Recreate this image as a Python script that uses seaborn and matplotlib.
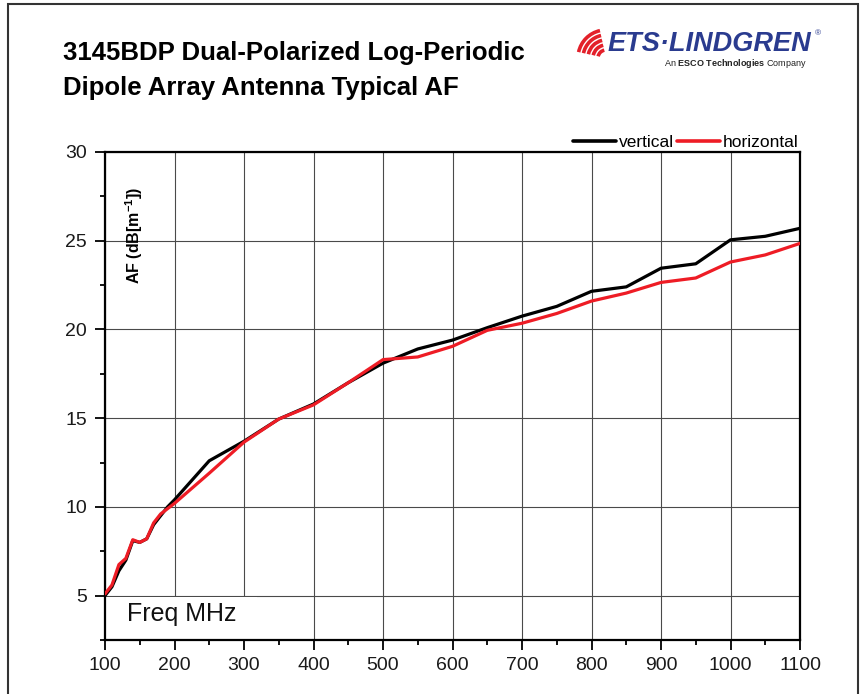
import numpy as np
import pandas as pd
import matplotlib
matplotlib.use('Agg')
import matplotlib.pyplot as plt
from matplotlib.patches import Rectangle, Arc
from matplotlib.lines import Line2D
from matplotlib.ticker import MultipleLocator
import seaborn as sns

# Antenna factor readings (MHz vs dB[1/m])
freq_mhz = [100, 110, 120, 130, 140, 150, 160, 170, 180, 190, 200,
            250, 300, 350, 400, 450, 500, 550, 600, 650, 700, 750,
            800, 850, 900, 950, 1000, 1050, 1100]
af_vertical = [5.0, 5.5, 6.4, 7.0, 8.1, 8.0, 8.2, 9.0, 9.5, 10.0, 10.4,
               12.6, 13.7, 14.95, 15.8, 17.0, 18.1, 18.9, 19.4, 20.1, 20.75, 21.3,
               22.15, 22.4, 23.45, 23.7, 25.05, 25.25, 25.7]
af_horizontal = [5.1, 5.6, 6.75, 7.1, 8.15, 8.0, 8.2, 9.1, 9.6, 9.9, 10.2,
                 11.9, 13.65, 14.95, 15.75, 17.0, 18.3, 18.45, 19.05, 19.95, 20.35, 20.9,
                 21.6, 22.05, 22.65, 22.9, 23.8, 24.2, 24.85]
series_names = ['vertical', 'horizontal']
series_colors = ['#000000', '#ee1c25']
x_ticks = list(range(100, 1101, 100))
y_ticks = [5, 10, 15, 20, 25, 30]

df = pd.DataFrame({
    'freq': freq_mhz * 2,
    'af': af_vertical + af_horizontal,
    'pol': ['vertical'] * len(freq_mhz) + ['horizontal'] * len(freq_mhz),
})

sns.set_style('white')
plt.rcParams['font.family'] = ['Liberation Sans', 'DejaVu Sans']
plt.rcParams['text.color'] = 'black'
plt.rcParams['mathtext.fontset'] = 'custom'
plt.rcParams['mathtext.rm'] = 'Liberation Sans'
plt.rcParams['mathtext.bf'] = 'Liberation Sans:bold'

fig = plt.figure(figsize=(8.65, 6.94), dpi=100)
ax = fig.add_axes([105 / 865, 1 - 640 / 694, 695 / 865, 488 / 694])

sns.lineplot(data=df, x='freq', y='af', hue='pol', hue_order=series_names,
             palette=series_colors, linewidth=2.3, legend=False, ax=ax,
             zorder=3)

ax.set_xlim(100, 1100)
ax.set_ylim(2.5, 30)
ax.set_xticks(x_ticks)
ax.set_yticks(y_ticks)
ax.xaxis.set_minor_locator(MultipleLocator(50))
ax.yaxis.set_minor_locator(MultipleLocator(2.5))
ax.tick_params(which='major', direction='out', length=7, width=1.3,
               color='black', labelsize=14, labelcolor='#1a1a1a', pad=5,
               bottom=True, left=True)
ax.tick_params(which='minor', direction='out', length=3.6, width=1.3,
               color='black', bottom=True, left=True)
ax.tick_params(axis='y', pad=6)
ax.grid(True, which='major', color='#4a4a4a', linewidth=0.8)
ax.set_axisbelow(True)
for s in ax.spines.values():
    s.set_visible(True)
    s.set_color('black')
    s.set_linewidth(1.6)
ax.set_xlabel('')
ax.set_ylabel('')

# white box behind the axis caption
ax.add_patch(Rectangle((0, 0), 152 / 695, 43 / 488, transform=ax.transAxes,
                       facecolor='white', edgecolor='none', zorder=2))
ax.text(127 / 865, 1 - 614 / 694, 'Freq MHz', transform=fig.transFigure,
        fontsize=18, va='center', ha='left', color='#111111', zorder=4)
ax.text(134 / 865, 1 - 235 / 694, r'AF (dB[m$^{\mathbf{-1}}$])',
        transform=fig.transFigure, rotation=90, fontsize=11.5,
        fontweight='bold', va='center', ha='center', zorder=4)

# legend above the plot
handles = [Line2D([0], [0], color=c, linewidth=2.6) for c in series_colors]
ax.legend(handles, series_names, loc='lower right', bbox_to_anchor=(1.0, 1.0),
          ncol=2, frameon=False, fontsize=12.5, handlelength=2.5,
          handletextpad=0.15, columnspacing=0.15, borderaxespad=0.1,
          borderpad=0.0)

# title
fig.text(63 / 865, 1 - 53 / 694, '3145BDP Dual-Polarized Log-Periodic',
         fontsize=18.5, fontweight='bold', va='center', ha='left')
fig.text(63 / 865, 1 - 88 / 694, 'Dipole Array Antenna Typical AF',
         fontsize=18.5, fontweight='bold', va='center', ha='left')

# company mark
for r in [8, 13, 18, 23, 28]:
    fig.add_artist(Arc((606 / 865, 1 - 58 / 694), 2 * r / 865, 2 * r / 694,
                       theta1=100, theta2=165, transform=fig.transFigure,
                       color='#e3202a', linewidth=2.6))
fig.text(608 / 865, 1 - 44 / 694, 'ETS\u00b7LINDGREN', fontsize=19.5,
         fontweight='bold', fontstyle='italic', color='#2a3b8f',
         va='center', ha='left')
fig.text(815 / 865, 1 - 34 / 694, '\u00ae', fontsize=6, color='#2a3b8f',
         va='center', ha='left')
fig.text(807 / 865, 1 - 64 / 694,
         r'An $\mathbf{ESCO\ Technologies}$ Company', fontsize=6.5,
         color='#222222', va='center', ha='right')

# outer frame
fig.add_artist(Rectangle((8 / 865, -0.05), 850 / 865, 1.05 - 4 / 694,
                         transform=fig.transFigure, facecolor='none',
                         edgecolor='#333333', linewidth=1.5))

fig.savefig('out.png', dpi=100)
